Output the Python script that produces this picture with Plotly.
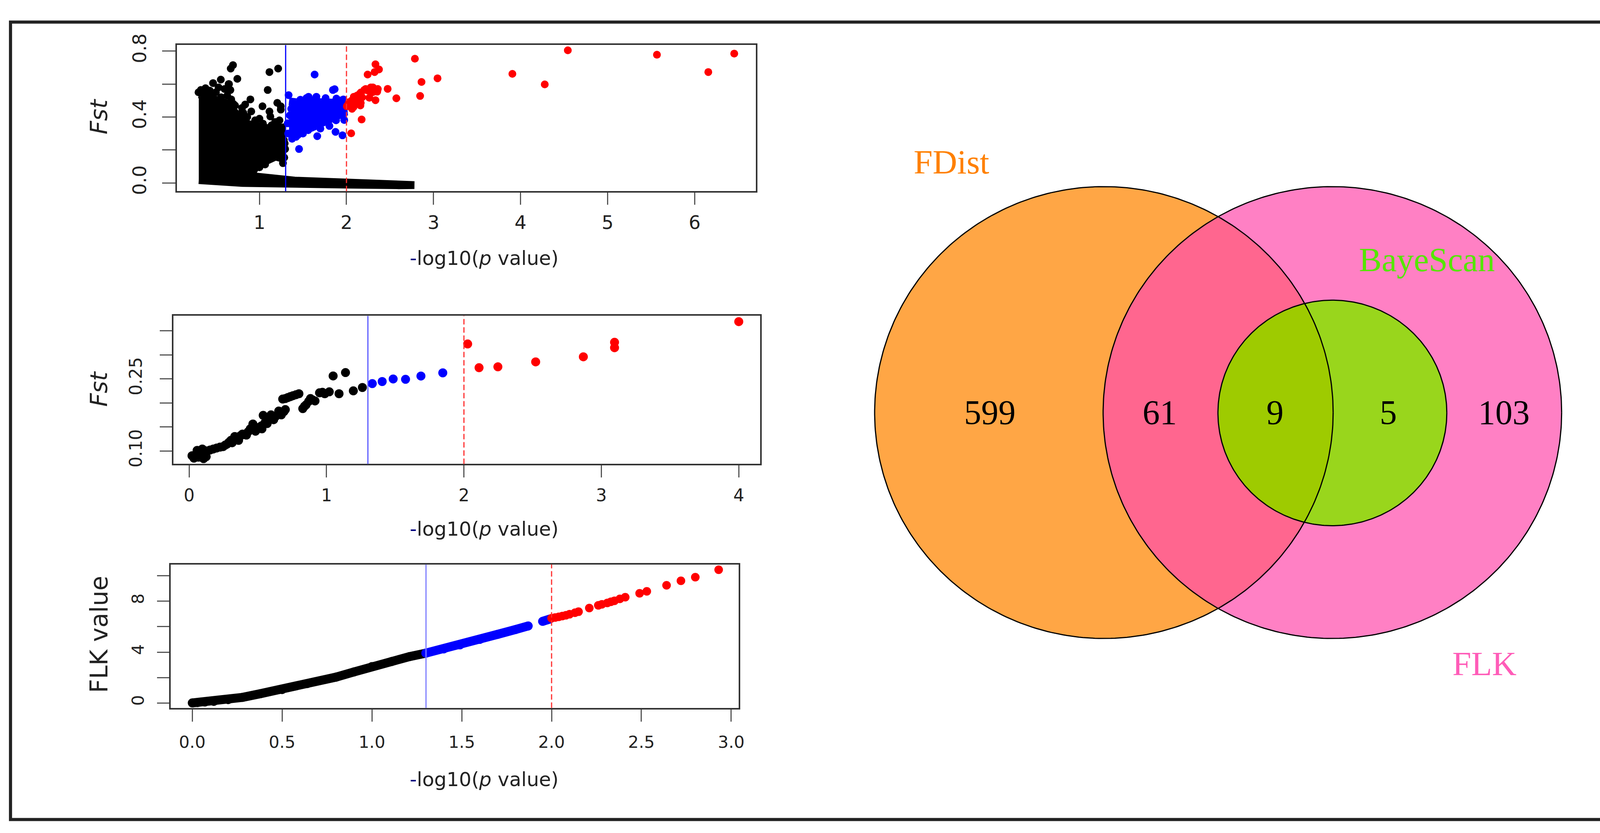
import numpy as np
import plotly.graph_objects as go

W, H = 4236, 2132

# ---------------- panel 1 : FDist  (Fst vs -log10 p) ----------------
# envelope of the saturated black cloud (point centres)
fd_core_x = [0.303, 0.406, 0.486, 0.606, 0.686, 0.746, 0.846, 1.006, 1.165, 1.255,
             1.255, 1.185, 1.085, 0.925, 0.846, 0.900, 1.405, 2.004, 2.600, 2.780,
             2.600, 2.004, 1.405, 0.806, 0.303]
fd_core_y = [0.538, 0.528, 0.507, 0.486, 0.455, 0.403, 0.362, 0.336, 0.330, 0.336,
             0.150, 0.160, 0.135, 0.105, 0.070, 0.042, 0.014, -0.001, -0.008, -0.013,
             -0.014, -0.010, -0.006, 0.000, 0.017]
fd_black_x = [0.696, 0.670, 1.115, 1.215, 0.556, 0.467, 0.746, 0.646, 0.666, 1.095,
              0.676, 0.327, 0.427, 0.896, 0.836, 1.035, 1.205, 1.245, 0.816, 0.906,
              1.115, 1.125, 1.245, 1.085, 1.065, 1.285, 1.295, 1.145, 0.300, 0.330,
              0.360, 0.400, 0.430, 0.500, 0.530, 0.600, 0.630, 0.650, 0.720, 0.780,
              0.860, 0.950, 1.000, 1.180, 1.230, 1.280, 1.290, 0.380, 0.460, 0.560,
              0.700, 0.800, 0.960, 1.040, 1.140, 1.200, 1.270, 1.000, 0.940]
fd_black_y = [0.715, 0.694, 0.673, 0.694, 0.627, 0.606, 0.632, 0.600, 0.564, 0.564,
              0.507, 0.564, 0.559, 0.507, 0.476, 0.465, 0.486, 0.465, 0.424, 0.434,
              0.434, 0.403, 0.445, 0.175, 0.112, 0.154, 0.206, 0.154, 0.550, 0.560,
              0.520, 0.540, 0.560, 0.550, 0.580, 0.570, 0.530, 0.600, 0.470, 0.420,
              0.400, 0.380, 0.390, 0.370, 0.380, 0.260, 0.240, 0.575, 0.530, 0.520,
              0.480, 0.455, 0.355, 0.360, 0.350, 0.365, 0.120, 0.095, 0.080]
fd_blue_core_x = [1.340, 1.500, 1.700, 1.960, 1.970, 1.800, 1.600, 1.400, 1.340]
fd_blue_core_y = [0.495, 0.485, 0.490, 0.485, 0.425, 0.380, 0.335, 0.305, 0.315]
fd_blue_x = [1.634, 1.864, 1.844, 1.335, 1.564, 1.654, 1.884, 1.964, 1.375, 1.455,
             1.664, 1.804, 1.874, 1.954, 1.974, 1.784, 1.505, 1.365, 1.325, 1.604,
             1.704, 1.330, 1.420, 1.470, 1.540, 1.610, 1.760, 1.920, 1.980, 1.500,
             1.700, 1.880, 1.350, 1.440, 1.560]
fd_blue_y = [0.658, 0.569, 0.564, 0.533, 0.523, 0.523, 0.512, 0.507, 0.268, 0.206,
             0.284, 0.346, 0.310, 0.289, 0.382, 0.445, 0.434, 0.450, 0.362, 0.382,
             0.362, 0.300, 0.280, 0.505, 0.515, 0.500, 0.515, 0.500, 0.460, 0.300,
             0.330, 0.380, 0.410, 0.290, 0.320]
fd_red_x = [2.044, 2.084, 2.164, 2.204, 2.303, 2.353, 2.263, 2.164, 2.333, 2.064,
            2.004, 2.243, 2.333, 2.373, 2.323, 2.473, 2.573, 2.174, 2.054, 2.786,
            2.862, 2.846, 3.046, 3.906, 4.278, 4.543, 5.567, 6.157, 6.455, 2.010,
            2.030, 2.060, 2.100, 2.120, 2.150, 2.180, 2.220, 2.250, 2.280, 2.300,
            2.360, 2.120, 2.160, 2.080]
fd_red_y = [0.476, 0.523, 0.549, 0.564, 0.580, 0.554, 0.517, 0.486, 0.502, 0.450,
            0.465, 0.658, 0.720, 0.689, 0.673, 0.571, 0.514, 0.385, 0.301, 0.754,
            0.613, 0.528, 0.635, 0.662, 0.598, 0.805, 0.778, 0.673, 0.785, 0.470,
            0.490, 0.500, 0.510, 0.530, 0.540, 0.520, 0.570, 0.560, 0.580, 0.550,
            0.570, 0.490, 0.470, 0.460]

# ---------------- panel 2 : BayeScan (Fst vs -log10 p) ----------------
mid_black_x = [0.021, 0.035, 0.049, 0.068, 0.087, 0.105, 0.124, 0.058, 0.096, 0.130,
               0.153, 0.176, 0.200, 0.225, 0.247, 0.262, 0.275, 0.290, 0.304, 0.313,
               0.332, 0.345, 0.360, 0.375, 0.388, 0.400, 0.417, 0.430, 0.445, 0.464,
               0.470, 0.483, 0.497, 0.511, 0.525, 0.530, 0.539, 0.550, 0.568, 0.580,
               0.596, 0.615, 0.630, 0.652, 0.671, 0.690, 0.700, 0.681, 0.700, 0.718,
               0.737, 0.756, 0.778, 0.799, 0.827, 0.840, 0.851, 0.870, 0.883, 0.900,
               0.916, 0.949, 0.970, 0.987, 1.020, 1.048, 1.091, 1.138, 1.195, 1.261]
mid_black_y = [0.090, 0.085, 0.093, 0.087, 0.092, 0.084, 0.088, 0.101, 0.104, 0.100,
               0.102, 0.104, 0.106, 0.108, 0.109, 0.112, 0.114, 0.118, 0.122, 0.117,
               0.130, 0.126, 0.122, 0.132, 0.135, 0.134, 0.133, 0.140, 0.146, 0.156,
               0.144, 0.141, 0.146, 0.149, 0.152, 0.146, 0.174, 0.158, 0.157, 0.165,
               0.175, 0.165, 0.172, 0.183, 0.175, 0.182, 0.186, 0.208, 0.209, 0.211,
               0.213, 0.215, 0.217, 0.219, 0.188, 0.193, 0.196, 0.203, 0.209, 0.206,
               0.204, 0.221, 0.222, 0.219, 0.223, 0.256, 0.219, 0.263, 0.225, 0.232]
mid_blue_x = [1.333, 1.405, 1.485, 1.575, 1.687, 1.846]
mid_blue_y = [0.2401, 0.2444, 0.2497, 0.2490, 0.2558, 0.2625]
mid_red_x = [2.027, 2.110, 2.247, 2.522, 2.869, 3.096, 3.096, 4.000]
mid_red_y = [0.3226, 0.2732, 0.2750, 0.2853, 0.2959, 0.3261, 0.3148, 0.3691]

# ---------------- panel 3 : FLK value vs -log10 p ----------------
flk_black_x = [0.00, 0.03, 0.07, 0.12, 0.20, 0.28, 0.38, 0.50, 0.64, 0.80, 0.90,
               1.00, 1.11, 1.21, 1.30]
flk_black_y = [0.00, 0.03, 0.07, 0.12, 0.26, 0.44, 0.73, 1.05, 1.52, 2.03, 2.44,
               2.86, 3.26, 3.65, 3.92]
flk_blue_x = [1.30, 1.40, 1.49, 1.60, 1.70, 1.80, 1.87]
flk_blue_y = [3.92, 4.25, 4.57, 5.00, 5.40, 5.78, 6.06]
flk_blue2_x = [1.95, 1.99]
flk_blue2_y = [6.42, 6.60]
flk_red_x = [2.00, 2.02, 2.04, 2.06, 2.08, 2.10, 2.13, 2.15, 2.21, 2.26, 2.28, 2.31,
             2.33, 2.35, 2.38, 2.41, 2.49, 2.53, 2.64, 2.72, 2.80, 2.93]
flk_red_y = [6.67, 6.72, 6.78, 6.84, 6.90, 6.98, 7.10, 7.18, 7.47, 7.68, 7.76, 7.87,
             7.96, 8.04, 8.19, 8.32, 8.63, 8.78, 9.26, 9.61, 9.90, 10.48]

# ---------------- Venn counts ----------------
venn_sets = ["FDist", "BayeScan", "FLK"]
venn_counts = [599, 61, 9, 5, 103]   # FDist only, FDist&FLK, all three, BayeScan&FLK, FLK only

p05 = -np.log10(0.05)
p01 = -np.log10(0.01)

AXFONT = "DejaVu Sans"
SERIF = "Liberation Serif"


def dom(a, b, n):
    return [a / n, b / n]


def ydom(top, bottom):
    return [1 - bottom / H, 1 - top / H]


fig = go.Figure()


def dots(x, y, color, size, ax):
    fig.add_trace(go.Scatter(x=x, y=y, mode="markers", xaxis="x" + ax, yaxis="y" + ax,
                             marker=dict(color=color, size=size, line=dict(width=0)),
                             hoverinfo="skip"))


def blob(x, y, color, width, ax):
    fig.add_trace(go.Scatter(x=x, y=y, mode="lines", fill="toself", fillcolor=color,
                             xaxis="x" + ax, yaxis="y" + ax,
                             line=dict(color=color, width=width), hoverinfo="skip"))


def curve(x, y, color, width, ax):
    fig.add_trace(go.Scatter(x=x, y=y, mode="lines+markers", xaxis="x" + ax, yaxis="y" + ax,
                             line=dict(color=color, width=width),
                             marker=dict(color=color, size=width, line=dict(width=0)),
                             hoverinfo="skip"))


# panel 1
blob(fd_core_x, fd_core_y, "black", 20, "")
dots(fd_black_x, fd_black_y, "black", 20, "")
blob(fd_blue_core_x, fd_blue_core_y, "#0000ff", 20, "")
dots(fd_blue_x, fd_blue_y, "#0000ff", 20, "")
dots(fd_red_x, fd_red_y, "#ff0000", 20, "")

# panel 2
dots(mid_black_x, mid_black_y, "black", 23, "2")
dots(mid_blue_x, mid_blue_y, "#0000ff", 23, "2")
dots(mid_red_x, mid_red_y, "#ff0000", 23, "2")

# panel 3
curve(flk_black_x, flk_black_y, "black", 23, "3")
curve(flk_blue_x, flk_blue_y, "#0000ff", 23, "3")
curve(flk_blue2_x, flk_blue2_y, "#0000ff", 23, "3")
dots(flk_red_x, flk_red_y, "#ff0000", 22, "3")

# ---------------- Venn geometry (pixel space) ----------------
c_fd, r_fd = (2836, 1045), 589
c_flk, r_flk = (3423, 1045), 589
c_bs, r_bs = (3423, 1046), 294


def circle(c, r, n=360):
    t = np.linspace(0, 2 * np.pi, n)
    return c[0] + r * np.cos(t), c[1] + r * np.sin(t)


def lens(c1, r1, c2, r2, n=200):
    d = np.hypot(c2[0] - c1[0], c2[1] - c1[1])
    a = (r1 ** 2 - r2 ** 2 + d ** 2) / (2 * d)
    th = np.arctan2(c2[1] - c1[1], c2[0] - c1[0])
    a1 = np.arccos(a / r1)
    a2 = np.arccos((d - a) / r2)
    t1 = np.linspace(th - a1, th + a1, n)
    t2 = np.linspace(th + np.pi - a2, th + np.pi + a2, n)
    xs = np.concatenate([c1[0] + r1 * np.cos(t1), c2[0] + r2 * np.cos(t2)])
    ys = np.concatenate([c1[1] + r1 * np.sin(t1), c2[1] + r2 * np.sin(t2)])
    return xs, ys


def region(xy, color):
    fig.add_trace(go.Scatter(x=xy[0], y=xy[1], mode="lines", fill="toself", fillcolor=color,
                             line=dict(width=0, color=color), xaxis="x4", yaxis="y4",
                             hoverinfo="skip"))


region(circle(c_fd, r_fd), "#ffa645")
region(circle(c_flk, r_flk), "#ff80c4")
region(lens(c_fd, r_fd, c_flk, r_flk), "#ff668f")
region(circle(c_bs, r_bs), "#99d61c")
region(lens(c_fd, r_fd, c_bs, r_bs), "#9ecb00")
for c, r in [(c_fd, r_fd), (c_flk, r_flk), (c_bs, r_bs)]:
    cx, cy = circle(c, r)
    fig.add_trace(go.Scatter(x=cx, y=cy, mode="lines", line=dict(color="black", width=3),
                             xaxis="x4", yaxis="y4", hoverinfo="skip"))

annotations = []
count_pos = [(2543, 1045), (2980, 1045), (3276, 1045), (3567, 1045), (3864, 1045)]
for (px, py), n in zip(count_pos, venn_counts):
    annotations.append(dict(x=px, y=py, xref="x4", yref="y4", text=str(n), showarrow=False,
                            font=dict(family=SERIF, size=88, color="black"),
                            xanchor="center", yanchor="middle"))
set_pos = [(2444, 392, "#ff8000"), (3666, 646, "#55e600"), (3813, 1700, "#ff5cb8")]
for (px, py, col), name in zip(set_pos, venn_sets):
    annotations.append(dict(x=px, y=py, xref="x4", yref="y4", text=name, showarrow=False,
                            font=dict(family=SERIF, size=87, color=col),
                            xanchor="center", yanchor="middle"))

xlab = "<span style='color:#00007f'>-</span>log10(<i>p</i> value)"
for yc in [643, 1349, 2002]:
    annotations.append(dict(x=1244 / W, y=1 - yc / H, xref="paper", yref="paper", text=xlab,
                            showarrow=False, font=dict(family=AXFONT, size=50, color="#222"),
                            xanchor="center", yanchor="middle"))
for yc, txt, sz in [(273, "<i>Fst</i>", 60), (983, "<i>Fst</i>", 60), (1623, "FLK value", 62)]:
    annotations.append(dict(x=254 / W, y=1 - yc / H, xref="paper", yref="paper", text=txt,
                            textangle=-90, showarrow=False,
                            font=dict(family=AXFONT, size=sz, color="#222"),
                            xanchor="center", yanchor="middle"))


def axis(domain, rng, tickvals, ticktext, size, standoff, ylike=False, ticklen=31):
    d = dict(domain=domain, range=rng, tickvals=tickvals, ticktext=ticktext,
             showline=True, mirror=True, linecolor="#333", linewidth=4,
             ticks="outside", ticklen=ticklen, tickwidth=3, tickcolor="#555",
             showgrid=False, zeroline=False, fixedrange=True,
             tickfont=dict(family=AXFONT, size=size, color="#222"),
             ticklabelstandoff=standoff)
    if ylike:
        d["tickangle"] = -90
    return d


layout = dict(
    width=W, height=H, margin=dict(l=0, r=0, t=0, b=0),
    paper_bgcolor="white", plot_bgcolor="rgba(0,0,0,0)", showlegend=False,
    xaxis=axis(dom(455, 1942, W), [0.054, 6.704], [1, 2, 3, 4, 5, 6],
               ["1", "2", "3", "4", "5", "6"], 48, 4),
    yaxis=axis(ydom(87, 468), [-0.0503, 0.8366], [0, 0.2, 0.4, 0.6, 0.8],
               ["0.0", "", "0.4", "", "0.8"], 48, 22, True, 34),
    xaxis2=axis(dom(446, 1953, W), [-0.113, 4.156], [0, 1, 2, 3, 4],
                ["0", "1", "2", "3", "4"], 44, 8),
    yaxis2=axis(ydom(793, 1179), [0.0729, 0.381], [0.10, 0.15, 0.20, 0.25, 0.30, 0.35],
                ["0.10", "", "", "0.25", "", ""], 44, 29, True),
    xaxis3=axis(dom(439, 1898, W), [-0.119, 3.042], [0, 0.5, 1, 1.5, 2, 2.5, 3],
                ["0.0", "0.5", "1.0", "1.5", "2.0", "2.5", "3.0"], 43, 16),
    yaxis3=axis(ydom(1441, 1815), [-0.39, 10.9], [0, 2, 4, 6, 8, 10],
                ["0", "", "4", "", "8", ""], 43, 17, True),
    xaxis4=dict(domain=[0, 1], range=[0, W], visible=False, fixedrange=True),
    yaxis4=dict(domain=[0, 1], range=[H, 0], visible=False, fixedrange=True),
    annotations=annotations,
)
layout["xaxis"]["anchor"] = "y"
layout["yaxis"]["anchor"] = "x"
layout["xaxis2"]["anchor"] = "y2"
layout["yaxis2"]["anchor"] = "x2"
layout["xaxis3"]["anchor"] = "y3"
layout["yaxis3"]["anchor"] = "x3"
layout["xaxis4"]["anchor"] = "y4"
layout["yaxis4"]["anchor"] = "x4"
fig.update_layout(**layout)

shapes = []
for ax, bl in [("", "#0000ff"), ("2", "#5a5aff"), ("3", "#7f7fff")]:
    shapes.append(dict(type="line", xref="x" + ax, yref=("y" + ax if ax else "y") + " domain",
                       x0=p05, x1=p05, y0=0, y1=1, line=dict(color=bl, width=3)))
    shapes.append(dict(type="line", xref="x" + ax, yref=("y" + ax if ax else "y") + " domain",
                       x0=p01, x1=p01, y0=0, y1=1,
                       line=dict(color="#ff3030", width=3, dash="14px,7px")))
# outer frame of the composite figure
shapes.append(dict(type="rect", xref="paper", yref="paper", x0=27 / W, x1=4208 / W,
                   y0=1 - 2106 / H, y1=1 - 27 / H, line=dict(color="#222", width=8)))
fig.update_layout(shapes=shapes)

fig.write_html("out.html", post_script="document.body.style.margin='0px';")
